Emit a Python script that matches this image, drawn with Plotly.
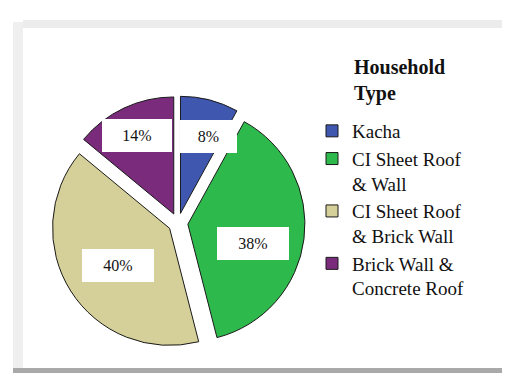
import math
import plotly.graph_objects as go

# ---- data ----
categories = ["Kacha", "CI Sheet Roof<br>& Wall", "CI Sheet Roof<br>& Brick Wall", "Brick Wall &<br>Concrete Roof"]
shares = [8, 38, 40, 14]
value_labels = ["8%", "38%", "40%", "14%"]
legend_title = "Household<br>Type"

# ---- style ----
W, H = 510, 373
slice_colors = ["#3F57AF", "#2EB94C", "#D5D09A", "#7B2B7C"]
pull = 0.085
serif = "Liberation Serif, Times New Roman, serif"
label_radius = [0.70, 0.58, 0.54, 0.74]     # fraction of radius for label boxes
label_nudge = [5.0, 8.0, -3.0, 0.0]          # degrees
label_width = [57, 72, 72, 70]
label_height = 33


def X(px):
    return px / W


def Y(py):
    return 1 - py / H


dom_x = [X(43), X(297)]
dom_y = [Y(342), Y(88)]

fig = go.Figure()
fig.add_trace(go.Pie(
    labels=categories,
    values=shares,
    sort=False,
    direction="clockwise",
    rotation=0,
    pull=[pull] * len(shares),
    marker=dict(colors=slice_colors, line=dict(color="#1a1a1a", width=1)),
    textinfo="none",
    hoverinfo="label+percent",
    domain=dict(x=dom_x, y=dom_y),
    showlegend=True,
))

# label boxes computed from the data angles
cx = (dom_x[0] + dom_x[1]) / 2 * W
cy = (1 - (dom_y[0] + dom_y[1]) / 2) * H
r = min((dom_x[1] - dom_x[0]) * W, (dom_y[1] - dom_y[0]) * H) / (2 * (1 + pull))
total = sum(shares)
cum = 0
annotations = []
for i, v in enumerate(shares):
    mid = (cum + v / 2) / total * 2 * math.pi + math.radians(label_nudge[i])
    cum += v
    d = r * (pull + label_radius[i])
    px = cx + d * math.sin(mid)
    py = cy - d * math.cos(mid)
    annotations.append(dict(
        x=X(px), y=Y(py), xref="paper", yref="paper",
        text=value_labels[i], showarrow=False,
        font=dict(family=serif, size=16, color="#111111"),
        bgcolor="white", width=label_width[i], height=label_height,
        borderpad=0, borderwidth=0, xanchor="center", yanchor="middle",
    ))

annotations.append(dict(
    x=X(344), y=Y(46), xref="paper", yref="paper", xanchor="left", yanchor="top",
    text="<b>" + legend_title.replace("<br>", "</b><br><b>") + "</b>",
    showarrow=False, align="left",
    font=dict(family=serif, size=20, color="#111111"),
))

# page frame
shapes = [
    dict(type="rect", x0=X(5), x1=X(15), y0=Y(362), y1=Y(14), fillcolor="#EFEFEF", line_width=0, layer="below"),
    dict(type="rect", x0=X(15), x1=X(500), y0=Y(20), y1=Y(12), fillcolor="#ECECEC", line_width=0, layer="below"),
    dict(type="rect", x0=X(496), x1=X(506), y0=Y(366), y1=Y(22), fillcolor="#A9A9A9", line_width=0, layer="below"),
    dict(type="rect", x0=X(5), x1=X(506), y0=Y(368), y1=Y(360), fillcolor="#A9A9A9", line_width=0, layer="below"),
    dict(type="rect", x0=X(15), x1=X(496), y0=Y(360), y1=Y(20), fillcolor="white", line_width=0, layer="below"),
]

fig.update_layout(
    width=W, height=H, autosize=False,
    margin=dict(l=0, r=0, t=0, b=0),
    paper_bgcolor="white", plot_bgcolor="white",
    font=dict(family=serif, color="#111111"),
    legend=dict(
        x=X(304), y=Y(104), xanchor="left", yanchor="top",
        font=dict(family=serif, size=19, color="#111111"),
        bgcolor="rgba(0,0,0,0)", valign="top", tracegroupgap=0,
    ),
    annotations=annotations,
    shapes=shapes,
)

fig.write_html("out.html")
